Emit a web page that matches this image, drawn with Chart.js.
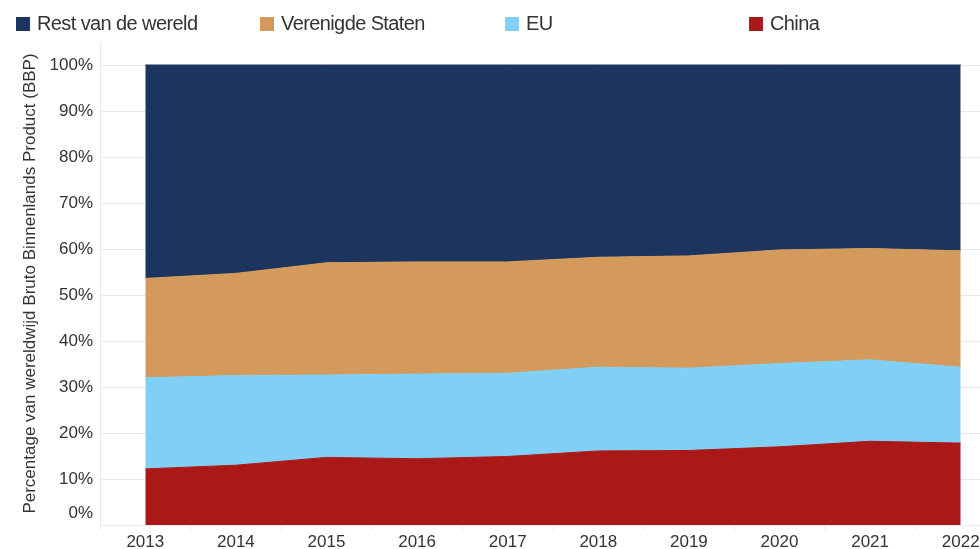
<!DOCTYPE html>
<html>
<head>
<meta charset="utf-8">
<script src="https://cdn.jsdelivr.net/npm/chart.js@4"></script>
<style>
  body { margin: 0; background: #fff; overflow: hidden; }
  #wrap { position: relative; width: 980px; height: 549px; overflow: hidden; }
  #box { position: absolute; left: 0; top: 0; width: 1006px; height: 549px; }
  .lg { position: absolute; top: 10px; height: 26px; font-family: "Liberation Sans", Arial, sans-serif;
        font-size: 20px; letter-spacing: -0.6px; color: #333; white-space: nowrap; line-height: 26px; }
  .lg span { display: inline-block; width: 14px; height: 14px; margin-right: 7px; vertical-align: -1px; }
</style>
</head>
<body>
<div id="wrap">
  <div id="box"><canvas id="gdpChart" width="1006" height="549"></canvas></div>
</div>
<script>
const years = ['2013', '2014', '2015', '2016', '2017', '2018', '2019', '2020', '2021', '2022'];
const china = [12.2, 13.0, 14.7, 14.4, 14.9, 16.1, 16.2, 17.0, 18.2, 17.8];
const eu = [19.8, 19.5, 17.9, 18.4, 18.1, 18.2, 17.9, 18.1, 17.7, 16.5];
const usa = [21.6, 22.2, 24.4, 24.4, 24.2, 23.9, 24.4, 24.7, 24.2, 25.3];
const rest = [46.4, 45.3, 43.0, 42.8, 42.8, 41.8, 41.5, 40.2, 39.9, 40.4];
const yTicks = [0, 10, 20, 30, 40, 50, 60, 70, 80, 90, 100];

const series = [
    { name: 'China', values: china, color: '#ab1818' },
    { name: 'EU', values: eu, color: '#80cff4' },
    { name: 'Verenigde Staten', values: usa, color: '#d49a5c' },
    { name: 'Rest van de wereld', values: rest, color: '#1c355e' }
];

// legend above the chart, fixed columns like the original
const legendLeft = [16, 260, 505, 749];
const wrap = document.getElementById('wrap');
series.slice().reverse().forEach(function (s, i) {
    const d = document.createElement('div');
    d.className = 'lg';
    d.style.left = legendLeft[i] + 'px';
    d.innerHTML = '<span style="background:' + s.color + '"></span>' + s.name;
    wrap.appendChild(d);
});

const font = "'Liberation Sans', Arial, sans-serif";
const gridColor = '#e9e9e9';
const textColor = '#333';

// the 0% label sits a bit above its gridline in the original
const zeroLabel = {
    id: 'zeroLabel',
    afterDraw: function (chart) {
        const y = chart.scales.y;
        const c = chart.ctx;
        c.save();
        c.font = '17px ' + font;
        c.fillStyle = textColor;
        c.textAlign = 'right';
        c.textBaseline = 'middle';
        c.fillText('0%', y.right - 7, y.getPixelForValue(0) - 12);
        c.restore();
    }
};

const ctx = document.getElementById('gdpChart').getContext('2d');
new Chart(ctx, {
    type: 'line',
    data: {
        labels: years,
        datasets: series.map(function (s, i) {
            return {
                label: s.name,
                data: s.values,
                backgroundColor: s.color,
                borderColor: s.color,
                borderWidth: 1,
                pointRadius: 0,
                tension: 0,
                fill: i === 0 ? 'origin' : '-1'
            };
        })
    },
    options: {
        responsive: false,
        animation: false,
        layout: { padding: { top: 42, left: 0, right: 0, bottom: 0 } },
        plugins: {
            legend: { display: false },
            tooltip: { enabled: false }
        },
        scales: {
            x: {
                offset: true,
                ticks: { color: textColor, font: { family: font, size: 17 }, padding: 2, maxRotation: 0, autoSkip: false },
                grid: { offset: true, drawOnChartArea: false, tickLength: 5, color: gridColor },
                border: { color: gridColor },
                afterFit: function (s) { s.height = 24; }
            },
            y: {
                stacked: true,
                min: 0,
                max: 105,
                afterBuildTicks: function (s) {
                    s.ticks = yTicks.map(function (v) { return { value: v }; });
                },
                ticks: {
                    color: textColor,
                    font: { family: font, size: 17 },
                    padding: 7,
                    callback: function (v) { return v === 0 ? '' : v + '%'; }
                },
                grid: { drawTicks: false, color: gridColor },
                border: { color: gridColor },
                title: {
                    display: true,
                    text: 'Percentage van wereldwijd Bruto Binnenlands Product (BBP)',
                    color: textColor,
                    font: { family: font, size: 17 },
                    padding: { top: 20, bottom: 0 }
                },
                afterFit: function (s) { s.width = 100; }
            }
        }
    },
    plugins: [zeroLabel]
});
</script>
</body>
</html>
